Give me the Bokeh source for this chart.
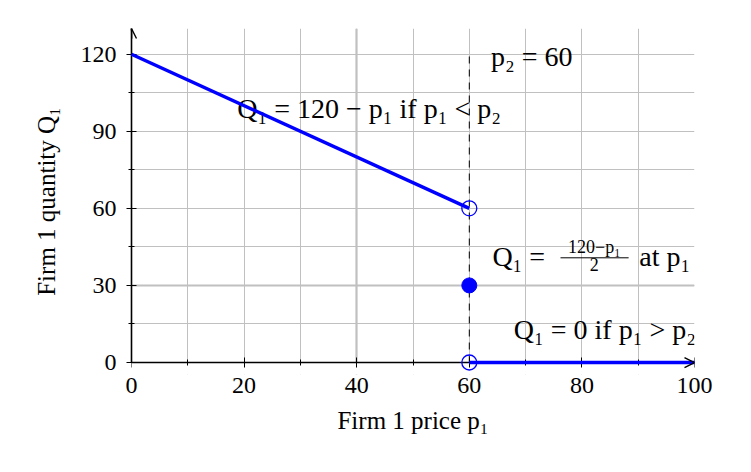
from bokeh.plotting import figure
from bokeh.models import Range1d, FixedTicker, Grid, Arrow, OpenHead, LinearAxis, BoxAnnotation
from bokeh.core.properties import value
from bokeh.embed import file_html
from bokeh.resources import INLINE

# ---- data ----
p2 = 60
demand_x = [0, 60]          # Q1 = 120 - p1 for p1 < p2
demand_y = [120, 60]
zero_x = [60, 100]          # Q1 = 0 for p1 > p2
zero_y = [0, 0]
open_x = [60, 60]           # excluded end points
open_y = [60, 0]
split_x = [60]              # Q1 = (120 - p1)/2 at p1 = p2
split_y = [30]
dash_x = [60, 60]
dash_y = [0, 120]
x_ticks = [0, 20, 40, 60, 80, 100]
x_minor = [10, 30, 50, 70, 90]
y_ticks = [0, 30, 60, 90, 120]
y_minor = [15, 45, 75, 105]
x_grid = [10, 20, 30, 40, 50, 60, 70, 80, 90, 100]
y_grid = [15, 30, 45, 60, 75, 90, 105, 120]
grid_strong_x = [40]
grid_strong_y = [30]

FONT = value("Liberation Serif")
BLUE = "#0000ff"

p = figure(width=735, height=456, x_range=Range1d(0, 100), y_range=Range1d(-4.67, 130),
           output_backend="svg", toolbar_location=None,
           min_border_left=131, min_border_right=41, min_border_top=28, min_border_bottom=82)
p.outline_line_color = None

# grids
p.xgrid.ticker = FixedTicker(ticks=x_grid)
p.ygrid.ticker = FixedTicker(ticks=y_grid)
for g in (p.xgrid, p.ygrid):
    g.grid_line_color = "#c0c0c0"
    g.grid_line_width = 1
p.add_layout(Grid(dimension=0, ticker=FixedTicker(ticks=grid_strong_x), grid_line_color="#c0c0c0",
                  grid_line_width=2.2))
p.add_layout(Grid(dimension=1, ticker=FixedTicker(ticks=grid_strong_y), grid_line_color="#c0c0c0",
                  grid_line_width=2.2))
# blank strip below Q1 = 0
p.add_layout(BoxAnnotation(top=0, fill_color="white", fill_alpha=1, line_color=None, level="glyph"))

def style(ax, size="24px"):
    ax.axis_line_color = "black"
    ax.axis_line_width = 1.6
    ax.major_tick_in = 5
    ax.major_tick_out = 5
    ax.minor_tick_in = 3
    ax.minor_tick_out = 3
    ax.major_tick_line_color = "black"
    ax.minor_tick_line_color = "black"
    ax.major_label_text_font = "Liberation Serif"
    ax.major_label_text_font_size = size
    ax.major_label_text_color = "black"
    ax.major_label_standoff = 10
    ax.axis_label_text_font = "Liberation Serif"
    ax.axis_label_text_font_size = "25px"
    ax.axis_label_text_font_style = "normal"
    ax.axis_label_text_color = "black"

# x axis: labels at the bottom, line and ticks at Q1 = 0
xa = p.xaxis[0]
style(xa)
xa.ticker = FixedTicker(ticks=x_ticks, minor_ticks=x_minor)
xa.axis_line_color = None
xa.major_tick_in = 0
xa.major_tick_out = 0
xa.minor_tick_in = 0
xa.minor_tick_out = 0
xa.major_label_standoff = 3
xa.axis_label = "Firm 1 price p₁"
xa.axis_label_standoff = 11

x0 = LinearAxis(fixed_location=0, ticker=FixedTicker(ticks=x_ticks, minor_ticks=x_minor))
style(x0)
x0.major_label_overrides = {t: "" for t in x_ticks}
p.add_layout(x0, "above")

ya = p.yaxis[0]
style(ya)
ya.ticker = FixedTicker(ticks=y_ticks, minor_ticks=y_minor)
ya.bounds = (0, 130)
ya.axis_label = "Firm 1 quantity Q₁"
ya.axis_label_standoff = 18

# dashed p2 line
p.line(dash_x, dash_y, line_color="black", line_width=1, line_dash="7 6")

# demand branches
p.line(demand_x, demand_y, line_color=BLUE, line_width=3.4, level="annotation")
p.line(zero_x, zero_y, line_color=BLUE, line_width=3.4, level="annotation")

# axis arrows
p.add_layout(Arrow(end=OpenHead(size=10, line_width=1.4, line_color="black"),
                   x_start=0, y_start=126, x_end=0, y_end=130,
                   line_color="black", line_width=1.6, level="overlay"))
p.add_layout(Arrow(end=OpenHead(size=10, line_width=1.4, line_color="black"),
                   x_start=97, y_start=0, x_end=100, y_end=0,
                   line_color=BLUE, line_width=0.1, level="overlay"))

# points
p.scatter(open_x, open_y, size=15, marker="circle", line_color=BLUE, line_width=1.3,
          fill_alpha=0, level="overlay")
p.scatter(split_x, split_y, size=15, marker="circle", line_color=BLUE, fill_color=BLUE,
          level="overlay")

# annotations
big = "28px"
small = "18px"
p.text(x=[42.2], y=[99.0], text=["Q₁ = 120 − p₁ if p₁ < p₂"], text_font=FONT,
       text_font_size=big, text_align="center", text_baseline="alphabetic", text_color="black")
p.text(x=[71.1], y=[119.1], text=["p₂ = 60"], text_font=FONT,
       text_font_size=big, text_align="center", text_baseline="alphabetic", text_color="black")
p.text(x=[64.1], y=[41.3], text=["Q₁ ="], text_font=FONT,
       text_font_size=big, text_align="left", text_baseline="alphabetic", text_color="black")
p.text(x=[82.2], y=[44.9], text=["120−p₁"], text_font=FONT,
       text_font_size=small, text_align="center", text_baseline="alphabetic", text_color="black")
p.segment(x0=[76.2], y0=[40.75], x1=[88.3], y1=[40.75], line_color="black", line_width=1)
p.text(x=[82.2], y=[38.2], text=["2"], text_font=FONT,
       text_font_size=small, text_align="center", text_baseline="alphabetic", text_color="black")
p.text(x=[90.2], y=[41.3], text=["at p₁"], text_font=FONT,
       text_font_size=big, text_align="left", text_baseline="alphabetic", text_color="black")
p.text(x=[67.9], y=[12.7], text=["Q₁ = 0 if p₁ > p₂"], text_font=FONT,
       text_font_size=big, text_align="left", text_baseline="alphabetic", text_color="black")

open("out.html", "w").write(file_html(p, INLINE))
